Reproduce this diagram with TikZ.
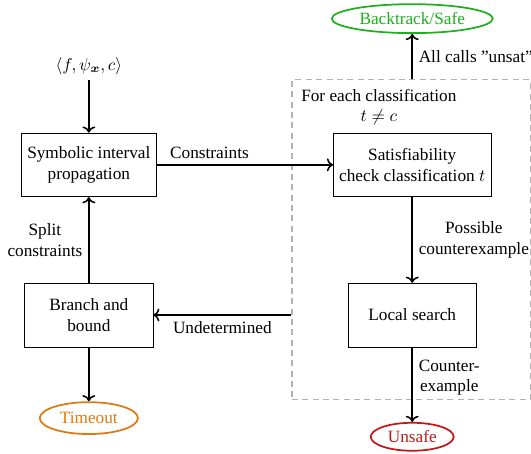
\documentclass[tikz,border=0pt]{standalone}
\usepackage{fontspec}
\setmainfont{Liberation Serif}
\usepackage{amsmath, amssymb, bm}
\usetikzlibrary{arrows.meta, positioning, calc, shapes.geometric}
\definecolor{safegreen}{HTML}{1CB01C}
\definecolor{timeorange}{HTML}{E07810}
\definecolor{unsafered}{HTML}{C01818}

\begin{document}
\begin{tikzpicture}[
    procbox/.style={draw, thin, minimum height=1.30cm, align=center},
    outcome/.style={ellipse, draw=#1, text=#1, line width=1pt, inner sep=1pt},
    flow/.style={->, line width=0.9pt},
    lbl/.style={align=center}
]
    \useasboundingbox (0, 0) rectangle (10.82, 9.25);
    % Left column
    \node (input) at (1.81, 7.91) {$\langle f, \psi_{\bm{x}}, c\rangle$};
    \node[procbox, minimum width=2.73cm] (sip) at (1.81, 5.89) {Symbolic interval\\propagation};
    \node[procbox, minimum width=2.61cm] (bab) at (1.81, 2.83) {Branch and\\bound};
    \node[outcome=timeorange, minimum width=2.0cm, minimum height=0.65cm] (timeout) at (1.81, 0.73) {Timeout};
    % Loop over classifications
    \node[draw=gray!60, semithick, dash pattern=on 3.5pt off 2.5pt, minimum width=4.85cm, minimum height=6.52cm] (loop) at (8.375, 4.36) {};
    \node[lbl] (loopcap) at (7.72, 7.07) {For each classification\\$t \neq c$};
    \node[procbox, minimum width=3.20cm] (sat) at (8.40, 5.89) {Satisfiability\\check classification $t$};
    \node[procbox, minimum width=2.61cm] (ls) at (8.40, 2.83) {Local search};
    \node[outcome=safegreen, minimum width=3.28cm, minimum height=0.59cm] (safe) at (8.40, 8.87) {Backtrack/Safe};
    \node[outcome=unsafered, minimum width=1.69cm, minimum height=0.57cm] (unsafe) at (8.40, 0.35) {Unsafe};
    % Connectors
    \draw[flow] (input) -- (sip);
    \draw[flow] (bab) -- (sip) node[midway, left, lbl] {Split\\constraints};
    \draw[flow] (bab) -- (timeout);
    \draw[flow] (sip) -- (sat) node[pos=0.3, above] {Constraints};
    \draw[flow] (sat) -- (ls) node[midway, right, lbl] {Possible\\counterexample};
    \draw[flow] (ls) -- (unsafe) node[midway, right, lbl, yshift=4pt] {Counter-\\example};
    \draw[flow] (loop.west |- bab) -- (bab) node[midway, below] {Undetermined};
    \draw[flow] (loop.north -| safe) -- (safe) node[midway, right] {All calls ''unsat''};
\end{tikzpicture}
\end{document}
